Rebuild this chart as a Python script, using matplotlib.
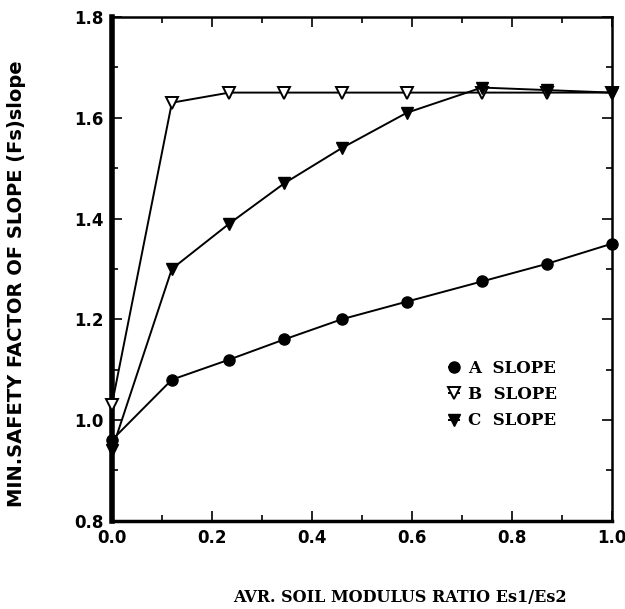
import matplotlib.pyplot as plt
from matplotlib.ticker import MultipleLocator

# soil modulus ratio Es1/Es2
ratio = [0.0, 0.12, 0.235, 0.345, 0.46, 0.59, 0.74, 0.87, 1.0]

slope_a = [0.96, 1.08, 1.12, 1.16, 1.20, 1.235, 1.275, 1.31, 1.35]
slope_b = [1.03, 1.63, 1.65, 1.65, 1.65, 1.65, 1.65, 1.65, 1.65]
slope_c = [0.94, 1.30, 1.39, 1.47, 1.54, 1.61, 1.66, 1.655, 1.65]

labels = ["A  SLOPE", "B  SLOPE", "C  SLOPE"]

fig = plt.figure(figsize=(6.25, 6.09), dpi=100)
ax = fig.add_axes([0.179, 0.145, 0.8, 0.827])

ax.plot(ratio, slope_a, "k-", lw=1.4, marker="o", ms=8, mfc="black", label=labels[0], clip_on=False, zorder=3)
ax.plot(ratio, slope_b, "k-", lw=1.4, marker="v", ms=9, mfc="white", mew=1.4, label=labels[1], clip_on=False, zorder=3)
ax.plot(ratio, slope_c, "k-", lw=1.4, marker="v", ms=9, mfc="black", label=labels[2], clip_on=False, zorder=4)

ax.set_xlim(0, 1.0)
ax.set_ylim(0.8, 1.8)
ax.xaxis.set_major_locator(MultipleLocator(0.2))
ax.xaxis.set_minor_locator(MultipleLocator(0.1))
ax.yaxis.set_major_locator(MultipleLocator(0.2))
ax.yaxis.set_minor_locator(MultipleLocator(0.1))
ax.xaxis.set_major_formatter(plt.FormatStrFormatter("%.1f"))
ax.yaxis.set_major_formatter(plt.FormatStrFormatter("%.1f"))

ax.tick_params(which="both", direction="in", top=True, right=True, width=1.2)
ax.tick_params(which="major", length=7, labelsize=12, pad=6)
ax.tick_params(which="minor", length=4)
for t in ax.get_xticklabels() + ax.get_yticklabels():
    t.set_fontweight("bold")

ax.spines["left"].set_linewidth(4)
ax.spines["bottom"].set_linewidth(2.5)
ax.spines["top"].set_linewidth(1.8)
ax.spines["right"].set_linewidth(1.8)

ax.set_ylabel("MIN.SAFETY FACTOR OF SLOPE (Fs)slope", fontsize=14, fontweight="bold",
              family=["Liberation Sans Narrow", "DejaVu Sans"])
ax.yaxis.set_label_coords(-0.172, 0.47)
ax.set_xlabel("AVR. SOIL MODULUS RATIO Es1/Es2", fontsize=11.5, fontweight="bold",
              family="DejaVu Serif")
ax.xaxis.set_label_coords(0.576, -0.136)

leg = ax.legend(loc="center left", bbox_to_anchor=(0.645, 0.25), frameon=False,
                handlelength=0.6, handletextpad=0.5, labelspacing=0.55,
                prop={"family": "DejaVu Serif", "weight": "bold", "size": 12})

fig.savefig("out.png", dpi=100)
